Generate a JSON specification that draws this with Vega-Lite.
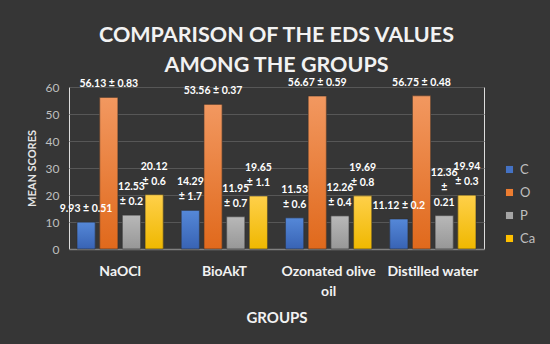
{
  "$schema": "https://vega.github.io/schema/vega-lite/v6.json",
  "width": 415,
  "height": 162,
  "autosize": "none",
  "padding": {"left": 69, "top": 87, "right": 66, "bottom": 95},
  "background": "#363636",
  "title": {
    "text": ["COMPARISON OF THE EDS VALUES", "AMONG THE GROUPS"],
    "font": "Lato", "fontSize": 21.5, "fontWeight": "bold", "color": "#f2f2f2",
    "lineHeight": 30, "offset": 1, "anchor": "middle"
  },
  "data": {
    "values": [
      {"group": "NaOCl", "series": "C", "value": 9.93, "b1": "9.93 ±  0.51", "b2": "", "b3": ""},
      {"group": "NaOCl", "series": "O", "value": 56.13, "b1": "56.13 ± 0.83", "b2": "", "b3": ""},
      {"group": "NaOCl", "series": "P", "value": 12.53, "b1": "± 0.2", "b2": "12.53", "b3": ""},
      {"group": "NaOCl", "series": "Ca", "value": 20.12, "b1": "± 0.6", "b2": "20.12", "b3": ""},
      {"group": "BioAkT", "series": "C", "value": 14.29, "b1": "±  1.7", "b2": "14.29", "b3": ""},
      {"group": "BioAkT", "series": "O", "value": 53.56, "b1": "53.56 ± 0.37", "b2": "", "b3": ""},
      {"group": "BioAkT", "series": "P", "value": 11.95, "b1": "± 0.7", "b2": "11.95", "b3": ""},
      {"group": "BioAkT", "series": "Ca", "value": 19.65, "b1": "± 1.1", "b2": "19.65", "b3": ""},
      {"group": "Ozonated olive oil", "series": "C", "value": 11.53, "b1": "± 0.6", "b2": "11.53", "b3": ""},
      {"group": "Ozonated olive oil", "series": "O", "value": 56.67, "b1": "56.67 ± 0.59", "b2": "", "b3": ""},
      {"group": "Ozonated olive oil", "series": "P", "value": 12.26, "b1": "± 0.4", "b2": "12.26", "b3": ""},
      {"group": "Ozonated olive oil", "series": "Ca", "value": 19.69, "b1": "± 0.8", "b2": "19.69", "b3": ""},
      {"group": "Distilled water", "series": "C", "value": 11.12, "b1": "11.12 ± 0.2", "b2": "", "b3": ""},
      {"group": "Distilled water", "series": "O", "value": 56.75, "b1": "56.75 ± 0.48", "b2": "", "b3": ""},
      {"group": "Distilled water", "series": "P", "value": 12.36, "b1": "0.21", "b2": "±", "b3": "12.36"},
      {"group": "Distilled water", "series": "Ca", "value": 19.94, "b1": "± 0.3", "b2": "19.94", "b3": ""}
    ]
  },
  "encoding": {
    "x": {
      "field": "group", "type": "nominal",
      "sort": ["NaOCl", "BioAkT", "Ozonated olive oil", "Distilled water"],
      "scale": {"paddingInner": 0.173, "paddingOuter": 0.077},
      "axis": {
        "title": "GROUPS", "titleFont": "Lato", "titleFontSize": 15, "titleFontWeight": "bold",
        "titleColor": "#f2f2f2", "titlePadding": 12,
        "labelFont": "Lato", "labelFontSize": 14, "labelFontWeight": "bold", "labelColor": "#f2f2f2",
        "labelAngle": 0, "labelPadding": 15, "labelLineHeight": 20,
        "labelExpr": "datum.value == 'Ozonated olive oil' ? ['Ozonated olive', 'oil'] : datum.label",
        "ticks": false, "domainColor": "#808080", "domainWidth": 1.5, "grid": false
      }
    },
    "xOffset": {
      "field": "series", "type": "nominal", "sort": ["C", "O", "P", "Ca"],
      "scale": {"paddingInner": 0.2, "paddingOuter": 0}
    },
    "y": {
      "field": "value", "type": "quantitative",
      "scale": {"domain": [0, 60], "nice": false},
      "axis": {
        "title": "MEAN SCORES", "titleFont": "Lato", "titleFontSize": 11, "titleFontWeight": "bold",
        "titleColor": "#e6e6e6", "titlePadding": 8,
        "labelFont": "Lato", "labelFontSize": 12, "labelColor": "#bfbfbf", "labelPadding": 10,
        "values": [0, 10, 20, 30, 40, 50, 60],
        "ticks": false, "domain": false, "grid": true, "gridColor": "#575757", "gridWidth": 1
      }
    }
  },
  "layer": [
    {
      "mark": {"type": "bar"},
      "encoding": {
        "color": {
          "field": "series", "type": "nominal", "sort": ["C", "O", "P", "Ca"],
          "scale": {"domain": ["C", "O", "P", "Ca"], "range": ["#4472C4", "#ED7D31", "#A5A5A5", "#FFC000"]},
          "legend": {
            "orient": "none", "legendX": 434, "legendY": 76, "title": null,
            "symbolType": "square", "symbolSize": 50, "symbolStrokeWidth": 0,
            "labelFont": "Lato", "labelFontSize": 13, "labelColor": "#bfbfbf",
            "rowPadding": 9, "labelOffset": 4
          }
        }
      }
    },
    {
      "mark": {"type": "bar", "stroke": "#2e2e2e", "strokeWidth": 0.6},
      "encoding": {
        "color": {
          "condition": [
            {"test": "datum.series === 'C'", "value": {"gradient": "linear", "x1": 0, "y1": 0, "x2": 0, "y2": 1, "stops": [{"offset": 0, "color": "#5588d8"}, {"offset": 1, "color": "#3863b4"}]}},
            {"test": "datum.series === 'O'", "value": {"gradient": "linear", "x1": 0, "y1": 0, "x2": 0, "y2": 1, "stops": [{"offset": 0, "color": "#f29860"}, {"offset": 1, "color": "#e0691c"}]}},
            {"test": "datum.series === 'P'", "value": {"gradient": "linear", "x1": 0, "y1": 0, "x2": 0, "y2": 1, "stops": [{"offset": 0, "color": "#b8b8b8"}, {"offset": 1, "color": "#979797"}]}}
          ],
          "value": {"gradient": "linear", "x1": 0, "y1": 0, "x2": 0, "y2": 1, "stops": [{"offset": 0, "color": "#ffd04a"}, {"offset": 1, "color": "#efb800"}]}
        }
      }
    },
    {
      "mark": {"type": "text", "baseline": "middle", "dy": -13, "font": "Lato", "fontSize": 10.5, "fontWeight": "bold", "color": "#ffffff"},
      "encoding": {"text": {"field": "b1"}}
    },
    {
      "transform": [{"filter": "datum.b2 != ''"}],
      "mark": {"type": "text", "baseline": "middle", "dy": -28, "font": "Lato", "fontSize": 10.5, "fontWeight": "bold", "color": "#ffffff"},
      "encoding": {"text": {"field": "b2"}}
    },
    {
      "transform": [{"filter": "datum.b3 != ''"}],
      "mark": {"type": "text", "baseline": "middle", "dy": -43, "font": "Lato", "fontSize": 10.5, "fontWeight": "bold", "color": "#ffffff"},
      "encoding": {"text": {"field": "b3"}}
    }
  ]
}
